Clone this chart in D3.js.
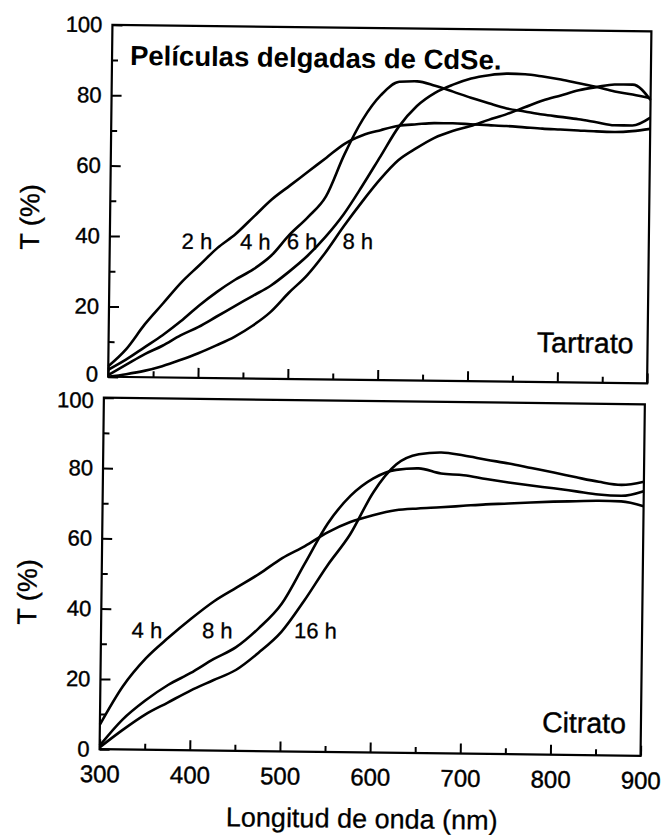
<!DOCTYPE html>
<html>
<head>
<meta charset="utf-8">
<script src="https://cdn.jsdelivr.net/npm/d3@7/dist/d3.min.js"></script>
<style>
  body { margin: 0; background: #fff; }
  text { font-family: Arial, "Liberation Sans", sans-serif; fill: #000; }
</style>
</head>
<body>
<svg id="chart" width="663" height="835"></svg>
<script>
// wavelength grid (nm) and transmittance (%)
const wlTop = [300,320,340,360,380,400,420,440,460,480,500,520,540,560,580,600,
               620,640,660,680,700,720,740,760,780,800,820,840,860,880,900];
const tart2h = [3,8,15,21,27,32,37,41,46,51,55,59,63,67,69.5,71,
                72.3,72.8,73.2,73.2,73,72.8,72.6,72.3,72,71.8,71.6,71.4,71.3,71.6,72.3];
const tart4h = [2,5,8.5,12,16,20.5,24.5,28,31,35,41,46,52,64,74,81,
                84.8,85,83.8,82.2,80.5,79,77.6,76.8,76,75.4,74.8,74,73.2,73.2,75.5];
const tart6h = [0.5,3.5,6.5,9,12,14.5,17.5,20.5,23.5,26.5,30.5,35,40.5,47,55,63.5,
                72,78,81.8,84.2,86,87,87.5,87.4,86.8,86,85,84,82.8,82,81];
const tart8h = [0,0.8,1.8,3.2,5,7,9.3,11.8,15,19,24.5,29.5,36,43.5,50.5,57,
                62.5,66,69,71,72.5,74.3,76,78,80,81.5,83,84,84.8,84.8,80.5];

const wlBot = [300,325,350,375,400,425,450,475,500,525,550,575,600,
               625,650,675,700,725,750,775,800,825,850,875,900];
const cit4h  = [7,18,26,32,37.5,42.5,46.5,50.5,55,58.5,62.5,65.5,67.5,
                69,69.6,70,70.5,71,71.3,71.7,72,72.2,72.4,72.3,71];
const cit8h  = [1,8.5,14,18.5,22,26,29.5,35,42,53.5,65,73,78,
                80.5,81,79.6,79.2,78.2,77.3,76.5,75.8,75,74.2,73.9,75.3];
const cit16h = [0.5,5.5,10,13.5,17,20,23,28,34,43,53,62,74,
                82,85,85.6,84.8,83.7,82.7,81.5,80.3,79,77.8,77,78];

const yMajor = [0,20,40,60,80,100];
const yMinor = [10,30,50,70,90];
const xMajor = [300,400,500,600,700,800,900];
const xMinor = [350,450,550,650,750,850];

const svg = d3.select('#chart');
svg.append('rect').attr('width', 663).attr('height', 835).attr('fill', '#fff');

// the scanned figure is slightly tilted
const root = svg.append('g').attr('transform', 'rotate(0.7,372,390)');

function panel(p) {
  const x = d3.scaleLinear().domain([300, 900]).range([p.left, p.right]);
  const y = d3.scaleLinear().domain([0, 100]).range([p.bottom, p.top]);
  const g = root.append('g');

  g.append('rect')
    .attr('x', p.left).attr('y', p.top)
    .attr('width', p.right - p.left).attr('height', p.bottom - p.top)
    .attr('fill', 'none').attr('stroke', '#000').attr('stroke-width', 2.2);

  const yAx = g.append('g').attr('transform', `translate(${p.left},0)`)
    .call(d3.axisLeft(y).tickValues(yMajor).tickSize(-10).tickPadding(10));
  g.append('g').attr('transform', `translate(${p.left},0)`)
    .call(d3.axisLeft(y).tickValues(yMinor).tickSize(-6).tickFormat(''));

  const xAx = g.append('g').attr('transform', `translate(0,${p.bottom})`)
    .call(d3.axisBottom(x).tickValues(xMajor).tickSize(-10).tickPadding(16)
      .tickFormat(p.xLabels ? d3.format('d') : ''));
  g.append('g').attr('transform', `translate(0,${p.bottom})`)
    .call(d3.axisBottom(x).tickValues(xMinor).tickSize(-6).tickFormat(''));

  g.selectAll('.domain').remove();
  g.selectAll('.tick line').attr('stroke', '#000').attr('stroke-width', 2);
  yAx.selectAll('text').attr('font-size', 22).attr('font-family', null)
    .attr('stroke', '#000').attr('stroke-width', 0.4);
  // keep the "0" of the upper panel and the "100" of the lower one apart
  yAx.selectAll('.tick text').filter(d => d === p.nudge[0]).attr('dy', p.nudge[1]);
  xAx.selectAll('text').attr('font-size', 24).attr('font-family', null)
    .attr('stroke', '#000').attr('stroke-width', 0.4);

  const line = d3.line()
    .x((d, i) => x(p.wl[i]))
    .y(d => y(d))
    .curve(d3.curveMonotoneX);

  g.selectAll('path.curve')
    .data(p.series)
    .enter()
    .append('path')
    .attr('class', 'curve')
    .attr('d', d => line(d.values))
    .attr('fill', 'none')
    .attr('stroke', '#000')
    .attr('stroke-width', 2.6)
    .attr('stroke-linejoin', 'round');

  g.selectAll('text.lab')
    .data(p.series)
    .enter()
    .append('text')
    .attr('class', 'lab')
    .attr('x', d => x(d.at[0]))
    .attr('y', d => y(d.at[1]))
    .attr('font-size', 22)
    .attr('stroke', '#000').attr('stroke-width', 0.3)
    .text(d => d.name);

  g.append('text')
    .attr('x', p.tag[0]).attr('y', p.tag[1])
    .attr('text-anchor', 'end')
    .attr('font-size', 28.5)
    .attr('stroke', '#000').attr('stroke-width', 0.4)
    .text(p.tagText);

  g.append('text')
    .attr('transform', `translate(${p.yTitle[0]},${p.yTitle[1]}) rotate(-90)`)
    .attr('text-anchor', 'middle')
    .attr('font-size', 27)
    .attr('stroke', '#000').attr('stroke-width', 0.4)
    .text('T (%)');
}

panel({
  left: 108, right: 647, top: 28, bottom: 380,
  wl: wlTop, xLabels: false, nudge: [0, '0.2em'],
  series: [
    {name: '2 h', values: tart2h, at: [380, 36.6]},
    {name: '4 h', values: tart4h, at: [445, 36.7]},
    {name: '6 h', values: tart6h, at: [497, 36.9]},
    {name: '8 h', values: tart8h, at: [559, 37.2]}
  ],
  tag: [633, 350], tagText: 'Tartrato',
  yTitle: [37, 221]
});

panel({
  left: 104, right: 645, top: 401, bottom: 752.5,
  wl: wlBot, xLabels: true, nudge: [100, '0.44em'],
  series: [
    {name: '4 h', values: cit4h, at: [334, 31.8]},
    {name: '8 h', values: cit8h, at: [412, 32]},
    {name: '16 h', values: cit16h, at: [514, 32.3]}
  ],
  tag: [630, 730], tagText: 'Citrato',
  yTitle: [39, 596]
});

root.append('text')
  .attr('x', 126).attr('y', 68)
  .attr('font-size', 27.5)
  .attr('font-weight', 'bold')
  .text('Películas delgadas de CdSe.');

root.append('text')
  .attr('x', 367).attr('y', 828)
  .attr('text-anchor', 'middle')
  .attr('font-size', 27)
  .attr('stroke', '#000').attr('stroke-width', 0.3)
  .text('Longitud de onda (nm)');
</script>
</body>
</html>
